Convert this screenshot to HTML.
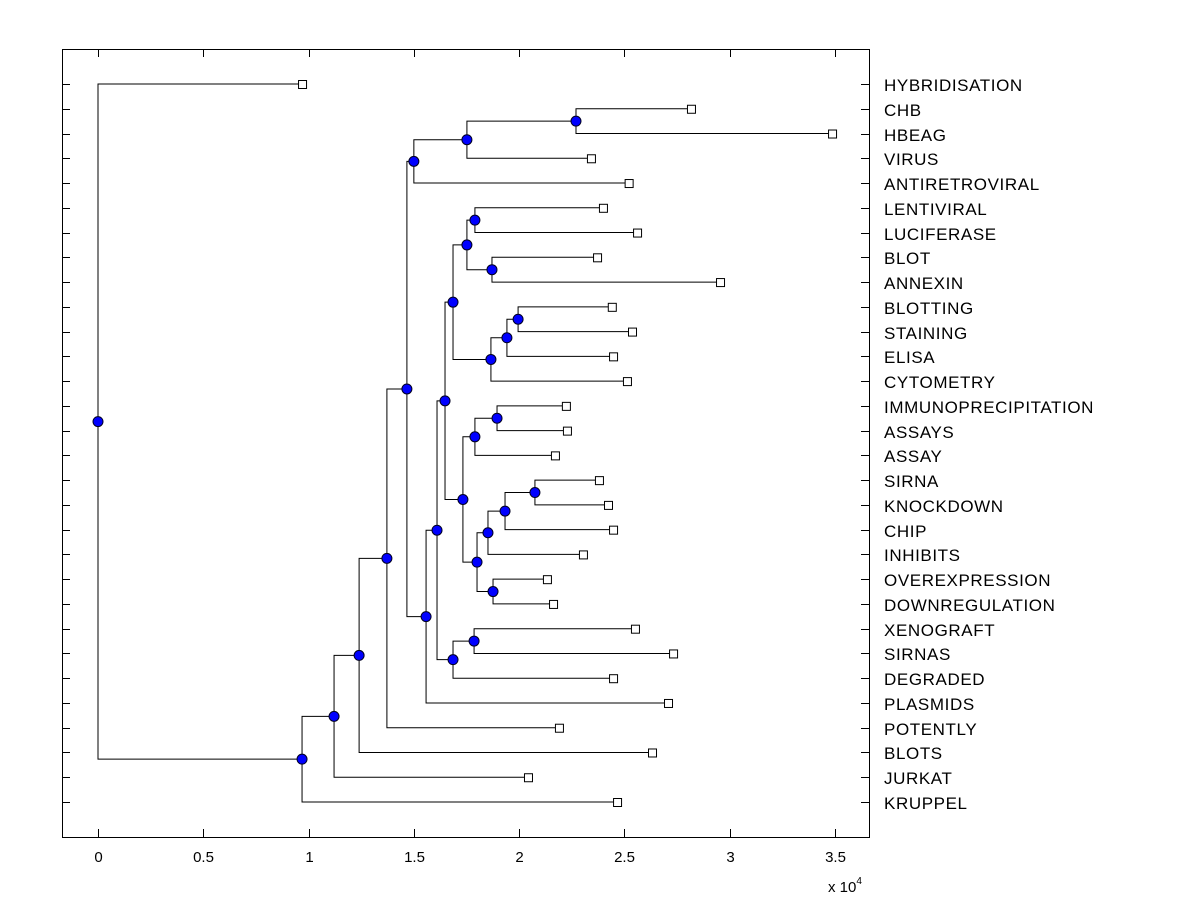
<!DOCTYPE html>
<html><head><meta charset="utf-8"><style>
body{margin:0;background:#fff;}
svg{display:block;font-family:"Liberation Sans",Arial,sans-serif;}
</style></head><body>
<svg id="chart" width="1200" height="900" xmlns="http://www.w3.org/2000/svg">
<rect x="0" y="0" width="1200" height="900" fill="#fff"/>
<g id="plot"></g>
</svg>
<script>
const labels=["HYBRIDISATION","CHB","HBEAG","VIRUS","ANTIRETROVIRAL","LENTIVIRAL","LUCIFERASE","BLOT","ANNEXIN","BLOTTING","STAINING","ELISA","CYTOMETRY","IMMUNOPRECIPITATION","ASSAYS","ASSAY","SIRNA","KNOCKDOWN","CHIP","INHIBITS","OVEREXPRESSION","DOWNREGULATION","XENOGRAFT","SIRNAS","DEGRADED","PLASMIDS","POTENTLY","BLOTS","JURKAT","KRUPPEL"];
const leafValues=[0.969,2.816,3.486,2.341,2.52,2.398,2.56,2.37,2.954,2.44,2.536,2.446,2.512,2.222,2.227,2.17,2.379,2.422,2.446,2.303,2.132,2.161,2.55,2.731,2.446,2.707,2.189,2.631,2.042,2.465];
const mergeLeft=[1,30,31,5,7,33,9,36,37,35,13,40,16,42,43,20,44,41,39,22,49,48,51,32,53,54,55,56,0];
const mergeRight=[2,3,4,6,8,34,10,11,12,38,14,15,17,18,19,21,45,46,47,23,24,50,25,52,26,27,28,29,57];
const mergeHeight=[2.27,1.752,1.50,1.79,1.871,1.752,1.995,1.942,1.866,1.686,1.895,1.79,2.075,1.933,1.852,1.876,1.80,1.733,1.648,1.786,1.686,1.61,1.558,1.467,1.372,1.24,1.121,0.969,0];
const xTicks=[0,0.5,1,1.5,2,2.5,3,3.5];
const xTickLabels=["0","0.5","1","1.5","2","2.5","3","3.5"];

const NS="http://www.w3.org/2000/svg";
const g=document.getElementById('plot');
const L=62,R=869,T=49,B=837;
const xs=v=>98+v*210.57;
const ys=i=>84+i*(802-84)/(labels.length-1);
function mk(tag,attrs,parent){const e=document.createElementNS(NS,tag);for(const k in attrs)e.setAttribute(k,attrs[k]);(parent||g).appendChild(e);return e;}

const box=mk('rect',{x:L+0.5,y:T+0.5,width:R-L,height:B-T,fill:'none',stroke:'#000','stroke-width':1});



xTicks.forEach((v,i)=>{
  const x=Math.round(xs(v))+0.5;
  const t1=mk('line',{x1:x,x2:x,y1:B,y2:B-8,stroke:'#000'});
  
  
  const t2=mk('line',{x1:x,x2:x,y1:T,y2:T+8,stroke:'#000'});
  
  
  const tx=mk('text',{x:x,y:862,'font-size':15,'text-anchor':'middle',fill:'#000'});
  tx.textContent=xTickLabels[i];
  
  
});
const ex=mk('text',{x:828,y:892,'font-size':15,fill:'#000'});


ex.innerHTML='x 10<tspan dy="-8" font-size="10">4</tspan>';

labels.forEach((lab,i)=>{
  const y=Math.round(ys(i))+0.5;
  const a=mk('line',{x1:L,x2:L+8,y1:y,y2:y,stroke:'#000'});
  
  
  const b=mk('line',{x1:R-8,x2:R,y1:y,y2:y,stroke:'#000'});
  
  
  const t=mk('text',{x:884,y:y+6.5,'font-size':17,'letter-spacing':0.6,fill:'#000'});
  t.textContent=lab;
  
  
});

const n=labels.length;
const nx=[],ny=[];
for(let i=0;i<n;i++){nx[i]=xs(leafValues[i]);ny[i]=ys(i);}
for(let k=0;k<mergeHeight.length;k++){
  const a=mergeLeft[k],b=mergeRight[k];
  nx[n+k]=xs(mergeHeight[k]);ny[n+k]=(ny[a]+ny[b])/2;
}
for(let k=0;k<mergeHeight.length;k++){
  const a=mergeLeft[k],b=mergeRight[k],x=nx[n+k];
  const p=mk('path',{d:`M${nx[a]},${ny[a]}H${x}V${ny[b]}H${nx[b]}`,fill:'none',stroke:'#000','stroke-width':1});
  
  
}
for(let i=0;i<n;i++){
  const s=mk('rect',{x:nx[i]-3.5,y:ny[i]-3.5,width:8,height:8,fill:'#fff',stroke:'#000'});
  
  
}
for(let k=0;k<mergeHeight.length;k++){
  const c=mk('circle',{cx:nx[n+k],cy:ny[n+k],r:5,fill:'#0000ff',stroke:'#000020','stroke-width':1});
  
  
}
</script>
</body></html>
